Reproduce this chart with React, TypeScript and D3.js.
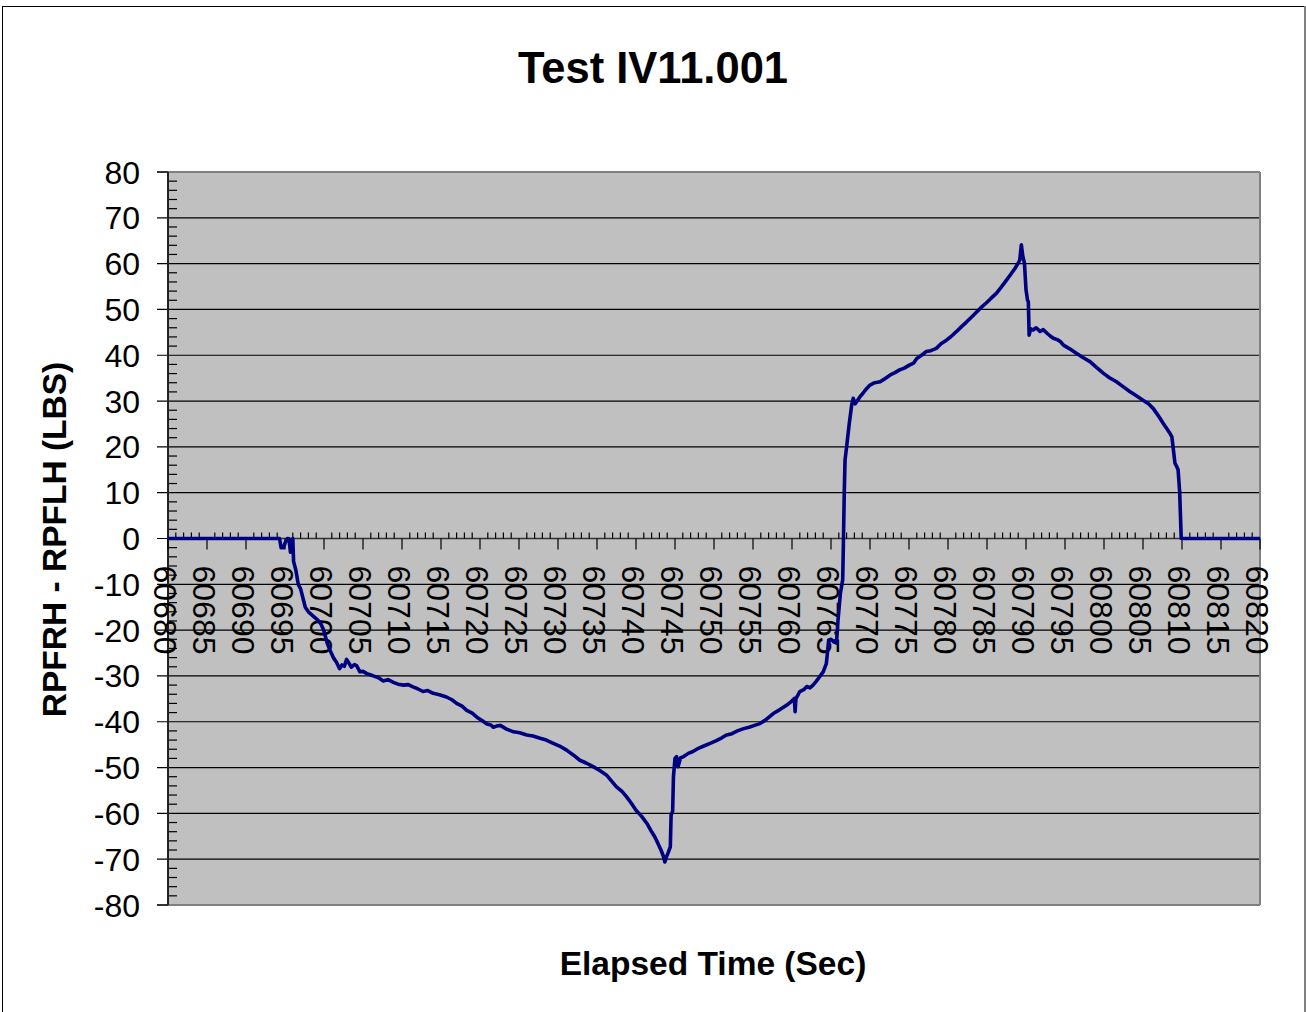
import React from "react";
import * as d3 from "d3";

const TITLE = "Test IV11.001";
const X_TITLE = "Elapsed Time (Sec)";
const Y_TITLE = "RPFRH - RPFLH (LBS)";

const xTickValues = d3.range(60680, 60821, 5);
const yTickValues = d3.range(-80, 81, 10);

const times: number[] = [
  60680, 60694.0, 60694.3, 60694.5, 60694.8, 60695.0, 60695.3, 60695.5, 60695.7, 60695.9,
  60696.0, 60696.1, 60696.4, 60696.7, 60697.0, 60697.3, 60697.6, 60698.0, 60698.4, 60698.8,
  60699.2, 60699.6, 60700.0, 60700.4, 60700.8, 60701.2, 60701.6, 60702.0, 60702.3, 60702.6,
  60702.9, 60703.2, 60703.5, 60703.9, 60704.2, 60704.6, 60705.0, 60705.5, 60706.0, 60706.5,
  60707.0, 60707.6, 60708.2, 60708.9, 60709.5, 60710.2, 60710.8, 60711.4, 60712.0, 60712.7,
  60713.3, 60714.0, 60714.8, 60715.7, 60716.4, 60717.0, 60717.7, 60718.3, 60719.0, 60719.6,
  60720.3, 60720.9, 60721.4, 60721.7, 60722.2, 60722.6, 60723.4, 60724.3, 60725.1, 60726.0,
  60726.8, 60727.7, 60728.5, 60729.4, 60730.2, 60731.1, 60732.0, 60732.8, 60733.6, 60734.5,
  60735.3, 60736.2, 60736.9, 60737.5, 60738.2, 60738.8, 60739.4, 60740.0, 60740.7, 60741.4,
  60741.9, 60742.4, 60742.8, 60743.2, 60743.5, 60743.7, 60743.9, 60744.1, 60744.4, 60744.5,
  60744.7, 60744.8, 60745.0, 60745.2, 60745.4, 60745.7, 60746.1, 60746.7, 60747.3, 60748.0,
  60748.7, 60749.5, 60750.3, 60751.0, 60751.6, 60752.3, 60753.0, 60753.8, 60754.5, 60755.2,
  60755.9, 60756.7, 60757.6, 60758.4, 60759.3, 60759.9, 60760.3, 60760.4, 60760.5, 60761.0,
  60761.5, 60761.9, 60762.3, 60762.7, 60763.1, 60763.4, 60764.0, 60764.4, 60764.6, 60764.7,
  60765.0, 60765.4, 60765.7, 60765.9, 60766.2, 60766.5, 60766.6, 60766.7, 60766.8, 60767.0,
  60767.35, 60767.65, 60767.85, 60768.1, 60768.3, 60768.7, 60769.1, 60769.5, 60770.0, 60770.6,
  60771.3, 60772.0, 60772.6, 60773.2, 60773.8, 60774.4, 60775.1, 60775.6, 60776.0, 60776.6,
  60777.2, 60777.8, 60778.5, 60779.1, 60779.8, 60780.4, 60781.1, 60781.7, 60782.4, 60783.0,
  60783.7, 60784.3, 60784.9, 60785.5, 60786.2, 60786.8, 60787.5, 60788.1, 60788.6, 60789.0,
  60789.2, 60789.4, 60789.6, 60789.8, 60790.0, 60790.2, 60790.3, 60790.4, 60790.6, 60790.9,
  60791.3, 60791.8, 60792.2, 60792.7, 60793.1, 60793.5, 60794.0, 60794.4, 60794.8, 60795.6,
  60796.5, 60797.3, 60798.2, 60799.0, 60799.9, 60800.7, 60801.6, 60802.4, 60803.3, 60804.1,
  60805.0, 60805.7, 60806.3, 60806.8, 60807.2, 60807.6, 60808.0, 60808.4, 60808.7, 60808.9,
  60809.1, 60809.3, 60809.5, 60809.7, 60809.9, 60820,
];

const diffValues: number[] = [
  0, 0, 0, -2, -2, -1, 0, 0, -3, -1,
  0, -5, -7, -10, -11, -13, -15, -16, -16.6, -17.2,
  -17.8, -18.6, -20.2, -22.8, -24.5, -26, -27, -28.4, -27.6, -27.9,
  -26.4, -27.2, -28.1, -27.5, -27.8, -29.1, -29.0, -29.5, -29.8, -30.1,
  -30.4, -31.1, -30.8, -31.4, -31.8, -32.0, -31.9, -32.4, -32.8, -33.4,
  -33.2, -33.8, -34.1, -34.6, -35.2, -36.0, -36.6, -37.5, -38.1, -39.0,
  -39.8, -40.5, -40.7, -41.2, -40.9, -40.8, -41.6, -42.2, -42.4, -42.9,
  -43.1, -43.6, -44.0, -44.7, -45.3, -46.2, -47.3, -48.4, -49.0, -49.8,
  -50.6, -51.6, -53.0, -54.2, -55.2, -56.4, -57.8, -59.3, -60.6, -62.2,
  -63.7, -65.1, -66.5, -68.0, -69.3, -70.6, -69.5, -68.7, -67.3, -60.4,
  -59.5, -52.0, -48.0, -47.6, -49.8, -47.9, -47.6, -46.9, -46.5, -45.8,
  -45.3, -44.7, -44.1, -43.5, -42.9, -42.6, -42.0, -41.5, -41.2, -40.8,
  -40.4, -39.5, -38.2, -37.4, -36.4, -35.6, -34.9, -37.8, -35.0, -33.4,
  -33.0, -32.3, -32.6, -32.0, -31.2, -30.5, -29.1, -27.3, -24.0, -22.2,
  -22.0, -22.6, -22.8, -17.8, -12.0, -9.0, 0, 10, 17.1, 20.0,
  25.2, 29.1, 30.6, 29.4, 29.9, 30.9, 31.7, 32.6, 33.5, 34.0,
  34.2, 35.0, 35.7, 36.2, 36.8, 37.2, 37.9, 38.3, 39.3, 40.0,
  40.8, 41.0, 41.5, 42.5, 43.3, 44.1, 45.2, 46.2, 47.3, 48.3,
  49.5, 50.5, 51.4, 52.4, 53.5, 54.8, 56.4, 57.8, 59.0, 60.1,
  60.8, 64.1, 61.5, 60.1, 54.3, 52.0, 51.7, 44.4, 45.8, 45.5,
  46.0, 45.2, 45.6, 44.8, 44.2, 43.7, 43.4, 43.0, 42.2, 41.4,
  40.4, 39.5, 38.6, 37.4, 36.1, 35.1, 34.2, 33.2, 32.1, 31.2,
  30.2, 29.4, 28.4, 27.2, 26.2, 25.1, 24.1, 23.1, 22.2, 19.3,
  16.4, 15.8, 15.0, 10.2, 0, 0,
];

const W = 1306;
const H = 1012;
const plot = { left: 168, right: 1260, top: 172, bottom: 905 };
const FONT = "'Liberation Sans', Arial, sans-serif";

export default function App() {
  const x = d3.scaleLinear().domain([60680, 60820]).range([plot.left, plot.right]);
  const y = d3.scaleLinear().domain([-80, 80]).range([plot.bottom, plot.top]);
  const y0 = y(0);
  const pts = times.map((t, i) => [t, diffValues[i]] as [number, number]);
  const line = d3
    .line<[number, number]>()
    .x((d) => x(d[0]))
    .y((d) => y(d[1]));
  const minorX = d3.range(60680, 60821, 1).filter((v) => v % 5 !== 0);
  const minorY = d3.range(-80, 81, 2).filter((v) => v % 10 !== 0);

  return (
    <svg
      width={W}
      height={H}
      style={{ position: "absolute", left: 0, top: 0, background: "#fff" }}
      fontFamily={FONT}
    >
      <rect x={2.5} y={6.5} width={1302} height={1010} fill="#fff" stroke="#000" strokeWidth={1} />
      <line x1={1305} x2={1305} y1={6} y2={H} stroke="#808080" strokeWidth={2} />
      <text x={653} y={83} textAnchor="middle" fontSize={43.5} fontWeight="bold">
        {TITLE}
      </text>
      <rect
        x={plot.left}
        y={plot.top}
        width={plot.right - plot.left}
        height={plot.bottom - plot.top}
        fill="#C0C0C0"
      />
      {yTickValues.map((v) => (
        <line
          key={"g" + v}
          x1={plot.left - 11}
          x2={plot.right}
          y1={y(v)}
          y2={y(v)}
          stroke={v === 80 || v === -80 ? "#808080" : "#000"}
          strokeWidth={v === 80 || v === -80 ? 2 : 1.2}
        />
      ))}
      <line x1={plot.left - 11} x2={plot.left} y1={y(80)} y2={y(80)} stroke="#000" strokeWidth={1.2} />
      <line x1={plot.left - 11} x2={plot.left} y1={y(-80)} y2={y(-80)} stroke="#000" strokeWidth={1.2} />
      <line x1={plot.right} x2={plot.right} y1={plot.top} y2={plot.bottom} stroke="#808080" strokeWidth={2} />
      {minorY.map((v) => (
        <line key={"my" + v} x1={plot.left} x2={plot.left + 9} y1={y(v)} y2={y(v)} stroke="#000" strokeWidth={1.2} />
      ))}
      <line x1={plot.left} x2={plot.left} y1={plot.top} y2={plot.bottom} stroke="#222" strokeWidth={2} />
      {yTickValues.map((v) => (
        <text key={"yl" + v} x={140} y={y(v)} dy="0.36em" textAnchor="end" fontSize={32}>
          {v}
        </text>
      ))}
      <line x1={plot.left} x2={plot.right} y1={y0} y2={y0} stroke="#333" strokeWidth={1.5} />
      {minorX.map((v) => (
        <line key={"mx" + v} x1={x(v)} x2={x(v)} y1={y0 - 6} y2={y0} stroke="#000" strokeWidth={1.2} />
      ))}
      {xTickValues.map((v) => (
        <line key={"tx" + v} x1={x(v)} x2={x(v)} y1={y0} y2={y0 + 11} stroke="#000" strokeWidth={1.2} />
      ))}
      {xTickValues.map((v) => (
        <text
          key={"xl" + v}
          transform={`translate(${x(v) - 2},${y0 + 27}) rotate(90)`}
          dy="0.36em"
          textAnchor="start"
          fontSize={32}
        >
          {v}
        </text>
      ))}
      <path d={line(pts) || ""} fill="none" stroke="#000080" strokeWidth={3.6} strokeLinejoin="round" />
      <text x={713} y={975} textAnchor="middle" fontSize={33.5} fontWeight="bold">
        {X_TITLE}
      </text>
      <text
        transform={`translate(66,${(plot.top + plot.bottom) / 2 + 1}) rotate(-90)`}
        textAnchor="middle"
        fontSize={33.5}
        fontWeight="bold"
      >
        {Y_TITLE}
      </text>
    </svg>
  );
}
